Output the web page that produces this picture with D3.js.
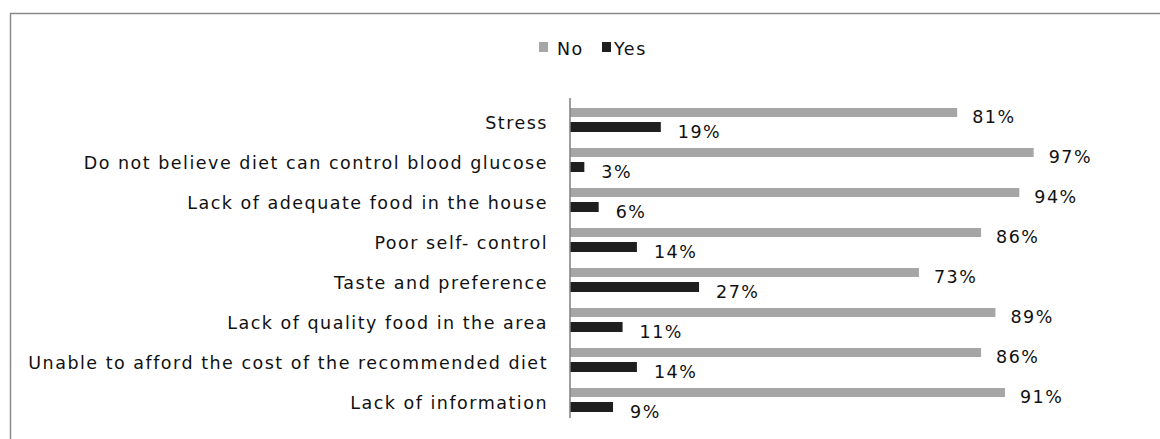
<!DOCTYPE html>
<html>
<head>
<meta charset="utf-8">
<script src="https://cdn.jsdelivr.net/npm/d3@7"></script>
<style>
  body { margin: 0; background: #fff; }
  text { font-family: "DejaVu Sans", sans-serif; fill: #111; font-size: 17.5px; letter-spacing: 1.5px; }
</style>
</head>
<body>
<script>
// DATA ////////////////////////////////////////////////////////////
var categories = [
  "Stress",
  "Do not believe diet can control blood glucose",
  "Lack of adequate food  in the house",
  "Poor self- control",
  "Taste and preference",
  "Lack of quality food in the area",
  "Unable to afford the cost of the recommended diet",
  "Lack of information"
];
var noValues  = [81, 97, 94, 86, 73, 89, 86, 91];
var yesValues = [19, 3, 6, 14, 27, 11, 14, 9];
var seriesNames = ["No", "Yes"];
var seriesColors = ["#a6a6a6", "#1f1f1f"];

// LAYOUT //////////////////////////////////////////////////////////
var width = 1160, height = 439;
var axisX = 570, axisTop = 98, axisBottom = 418;

var svg = d3.select("body").append("svg")
  .attr("width", width).attr("height", height);

// frame
svg.append("path")
  .attr("d", "M10.5," + (height + 2) + "V13.5H" + (width + 2))
  .attr("fill", "none").attr("stroke", "#8a8a8a").attr("stroke-width", 1.5);

var x = d3.scaleLinear().domain([0, 100]).range([axisX, axisX + 478]);
var y = d3.scaleBand().domain(categories).range([axisTop, axisBottom]);

var rows = svg.append("g").selectAll(".row").data(categories)
  .enter().append("g").attr("class", "row")
  .attr("transform", function(d){ return "translate(0," + y(d) + ")"; });

// NO BARS
rows.append("rect")
  .attr("x", x(0))
  .attr("y", 10)
  .attr("height", 9)
  .attr("width", function(d,i){ return x(noValues[i]) - x(0); })
  .attr("fill", seriesColors[0]);

rows.append("text")
  .attr("x", function(d,i){ return x(noValues[i]) + 15; })
  .attr("y", 25)
  .text(function(d,i){ return noValues[i] + "%"; });

// YES BARS
rows.append("rect")
  .attr("x", x(0))
  .attr("y", 24)
  .attr("height", 10)
  .attr("width", function(d,i){ return x(yesValues[i]) - x(0); })
  .attr("fill", seriesColors[1]);

rows.append("text")
  .attr("x", function(d,i){ return x(yesValues[i]) + 17; })
  .attr("y", 40)
  .text(function(d,i){ return yesValues[i] + "%"; });

// CATEGORY LABELS
rows.append("text")
  .attr("x", axisX - 22)
  .attr("y", 31)
  .attr("text-anchor", "end")
  .text(function(d){ return d; });

// AXIS LINE
svg.append("line")
  .attr("x1", axisX).attr("x2", axisX)
  .attr("y1", axisTop).attr("y2", axisBottom)
  .attr("stroke", "#7f7f7f").attr("stroke-width", 1.5);

// LEGEND
var legend = svg.append("g").attr("transform", "translate(539,42)");
var legendX = [0, 63];
seriesNames.forEach(function(name, i){
  legend.append("rect")
    .attr("x", legendX[i]).attr("y", 0)
    .attr("width", 9).attr("height", 10)
    .attr("fill", seriesColors[i]);
  legend.append("text")
    .attr("x", legendX[i] + (i === 0 ? 18 : 12)).attr("y", 13)
    .text(name);
});
</script>
</body>
</html>
